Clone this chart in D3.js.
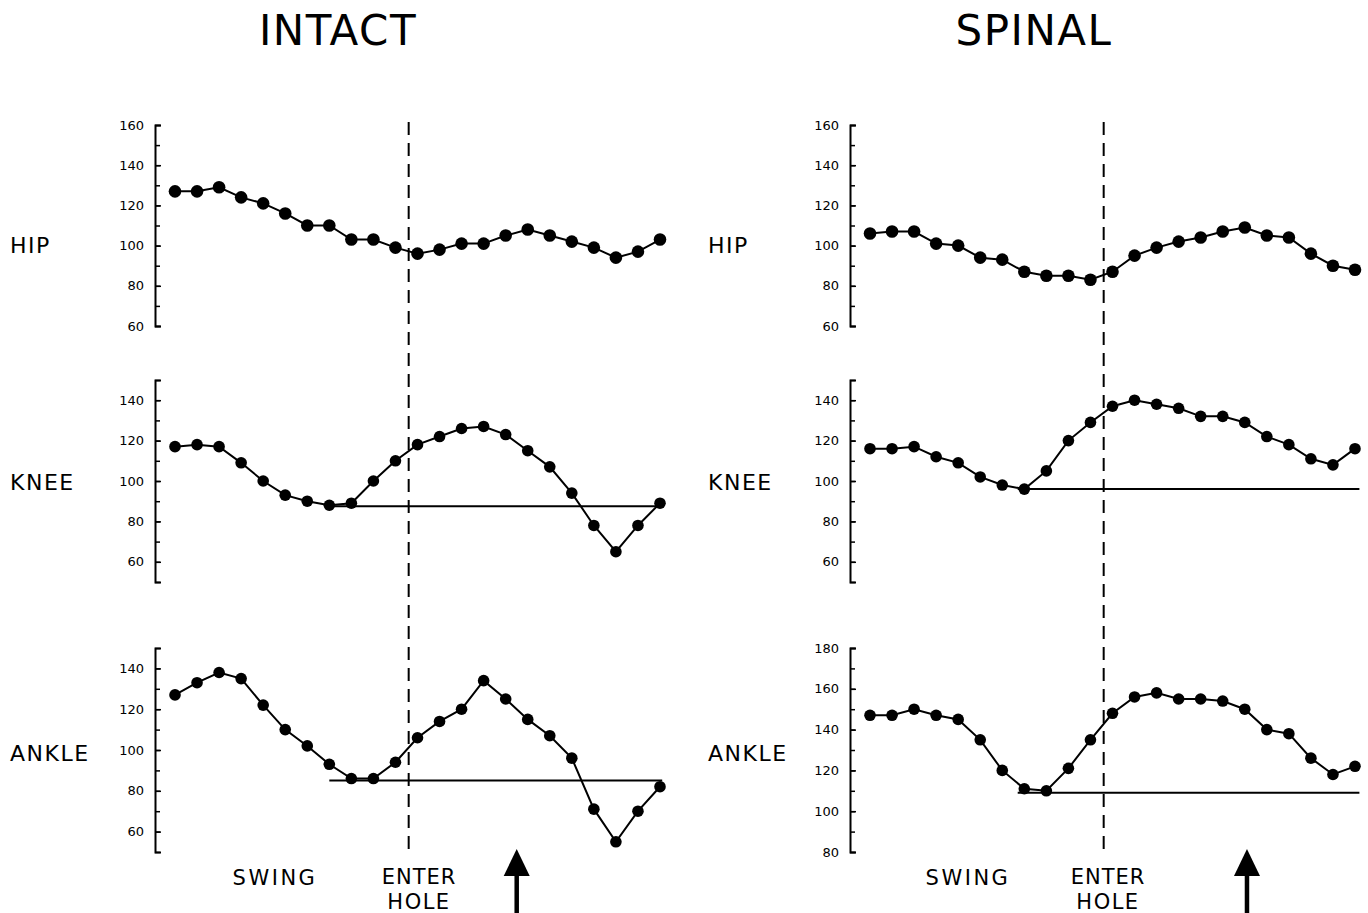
<!DOCTYPE html>
<html>
<head>
<meta charset="utf-8">
<script src="https://cdn.jsdelivr.net/npm/d3@7"></script>
<style>
  html, body { margin: 0; padding: 0; background: #fff; }
  svg { display: block; }
  text { font-family: "DejaVu Sans", sans-serif; fill: #000; }
</style>
</head>
<body>
<svg id="chart" width="1368" height="913"></svg>
<script>
// ---- data ----
const frames = [1,2,3,4,5,6,7,8,9,10,11,12,13,14,15,16,17,18,19,20,21,22,23];
const groups = ["INTACT", "SPINAL"];
const joints = ["HIP", "KNEE", "ANKLE"];

const intactHip   = [127,127,129,124,121,116,110,110,103,103,99,96,98,101,101,105,108,105,102,99,94,97,103];
const intactKnee  = [117,118,117,109,100,93,90,88,89,100,110,118,122,126,127,123,115,107,94,78,65,78,89];
const intactAnkle = [127,133,138,135,122,110,102,93,86,86,94,106,114,120,134,125,115,107,96,71,55,70,82];

const spinalHip   = [106,107,107,101,100,94,93,87,85,85,83,87,95,99,102,104,107,109,105,104,96,90,88];
const spinalKnee  = [116,116,117,112,109,102,98,96,105,120,129,137,140,138,136,132,132,129,122,118,111,108,116];
const spinalAnkle = [147,147,150,147,145,135,120,111,110,121,135,148,156,158,155,155,154,150,140,138,126,118,122];

// horizontal reference levels [value, from frame, to frame]
const intactKneeRef  = [87.5, 8, 23];
const intactAnkleRef = [85, 8, 23.1];
const spinalKneeRef  = [96, 7.7, 23.2];
const spinalAnkleRef = [109, 7.7, 23.2];

// "enter hole" event, in frame units
const enterHoleFrame = 11.6;
// arrow event, in frame units
const arrowFrameIntact = 16.5;
const arrowFrameSpinal = 18.1;

// axis domains and tick labels
const hipDomain = [60, 160],  hipTicks = [60, 80, 100, 120, 140, 160];
const kneeDomain = [50, 150], kneeTicks = [60, 80, 100, 120, 140];
const intactAnkleDomain = [50, 150], intactAnkleTicks = [60, 80, 100, 120, 140];
const spinalAnkleDomain = [80, 180], spinalAnkleTicks = [80, 100, 120, 140, 160, 180];

// ---- layout ----
const svg = d3.select("#chart");
const cols = [
  { name: groups[0], axisX: 155, x0: 175, x1: 660, labelX: 10, titleX: 338,
    series: [intactHip, intactKnee, intactAnkle],
    domains: [hipDomain, kneeDomain, intactAnkleDomain],
    ticks: [hipTicks, kneeTicks, intactAnkleTicks],
    refs: [null, intactKneeRef, intactAnkleRef],
    arrow: arrowFrameIntact, swingX: 275, enterX: 419 },
  { name: groups[1], axisX: 850, x0: 870, x1: 1355, labelX: 708, titleX: 1034,
    series: [spinalHip, spinalKnee, spinalAnkle],
    domains: [hipDomain, kneeDomain, spinalAnkleDomain],
    ticks: [hipTicks, kneeTicks, spinalAnkleTicks],
    refs: [null, spinalKneeRef, spinalAnkleRef],
    arrow: arrowFrameSpinal, swingX: 968, enterX: 1108 }
];
const rows = [
  { top: 125, bottom: 326, labelY: 253, r: 6.3 },
  { top: 380, bottom: 582, labelY: 490, r: 5.8 },
  { top: 648, bottom: 852, labelY: 761, r: 5.8 }
];

cols.forEach(col => {
  const x = d3.scaleLinear().domain([1, 23]).range([col.x0, col.x1]);

  // title
  svg.append("text")
    .attr("x", col.titleX).attr("y", 45)
    .attr("text-anchor", "middle")
    .style("font-size", "42px").style("letter-spacing", "1.5px")
    .text(col.name);

  rows.forEach((row, ri) => {
    const dom = col.domains[ri];
    const y = d3.scaleLinear().domain(dom).range([row.bottom, row.top]);
    const g = svg.append("g");

    // minor ticks every 10
    const minor = d3.range(dom[0], dom[1] + 1, 10);
    const minorAxis = d3.axisLeft(y).tickValues(minor).tickSizeInner(-5).tickSizeOuter(-6).tickFormat("");
    const ga = g.append("g").attr("transform", `translate(${col.axisX},0)`).call(minorAxis);
    ga.select(".domain").attr("stroke-width", 2);
    ga.selectAll(".tick line").attr("stroke-width", 1.5);

    const majorAxis = d3.axisLeft(y).tickValues(col.ticks[ri]).tickSizeInner(-6).tickSizeOuter(0).tickPadding(11);
    const gm = g.append("g").attr("transform", `translate(${col.axisX},0)`).call(majorAxis);
    gm.select(".domain").remove();
    gm.selectAll(".tick line").attr("stroke-width", 1.5);
    gm.selectAll(".tick text").style("font-size", "13px").style("font-family", "DejaVu Sans, sans-serif");

    // row label
    svg.append("text")
      .attr("x", col.labelX).attr("y", row.labelY)
      .style("font-size", "22px").style("letter-spacing", "1.5px")
      .text(joints[ri]);

    // reference line
    const ref = col.refs[ri];
    if (ref) {
      g.append("line")
        .attr("x1", x(ref[1])).attr("x2", x(ref[2]))
        .attr("y1", y(ref[0])).attr("y2", y(ref[0]))
        .attr("stroke", "#000").attr("stroke-width", 2);
    }

    const vals = col.series[ri];
    const line = d3.line().x((d, i) => x(frames[i])).y(d => y(d));
    g.append("path").datum(vals)
      .attr("d", line).attr("fill", "none")
      .attr("stroke", "#000").attr("stroke-width", 2);
    g.selectAll("circle").data(vals).join("circle")
      .attr("cx", (d, i) => x(frames[i])).attr("cy", d => y(d))
      .attr("r", row.r).attr("fill", "#000");
  });

  // dashed enter-hole line
  svg.append("line")
    .attr("x1", x(enterHoleFrame)).attr("x2", x(enterHoleFrame))
    .attr("y1", 122).attr("y2", 849)
    .attr("stroke", "#000").attr("stroke-width", 2)
    .attr("stroke-dasharray", "13,8");

  // bottom labels
  svg.append("text").attr("x", col.swingX).attr("y", 885)
    .attr("text-anchor", "middle").style("font-size", "21px").style("letter-spacing", "2.5px").text("SWING");
  svg.append("text").attr("x", col.enterX).attr("y", 884)
    .attr("text-anchor", "middle").style("font-size", "21px").style("letter-spacing", "1px").text("ENTER");
  svg.append("text").attr("x", col.enterX).attr("y", 909)
    .attr("text-anchor", "middle").style("font-size", "21px").style("letter-spacing", "1.5px").text("HOLE");

  // arrow
  const ax = x(col.arrow);
  svg.append("line").attr("x1", ax).attr("x2", ax).attr("y1", 870).attr("y2", 913)
    .attr("stroke", "#000").attr("stroke-width", 4.5);
  svg.append("path")
    .attr("d", `M${ax},849 L${ax - 13},876 L${ax + 13},876 Z`)
    .attr("fill", "#000");
});
</script>
</body>
</html>
